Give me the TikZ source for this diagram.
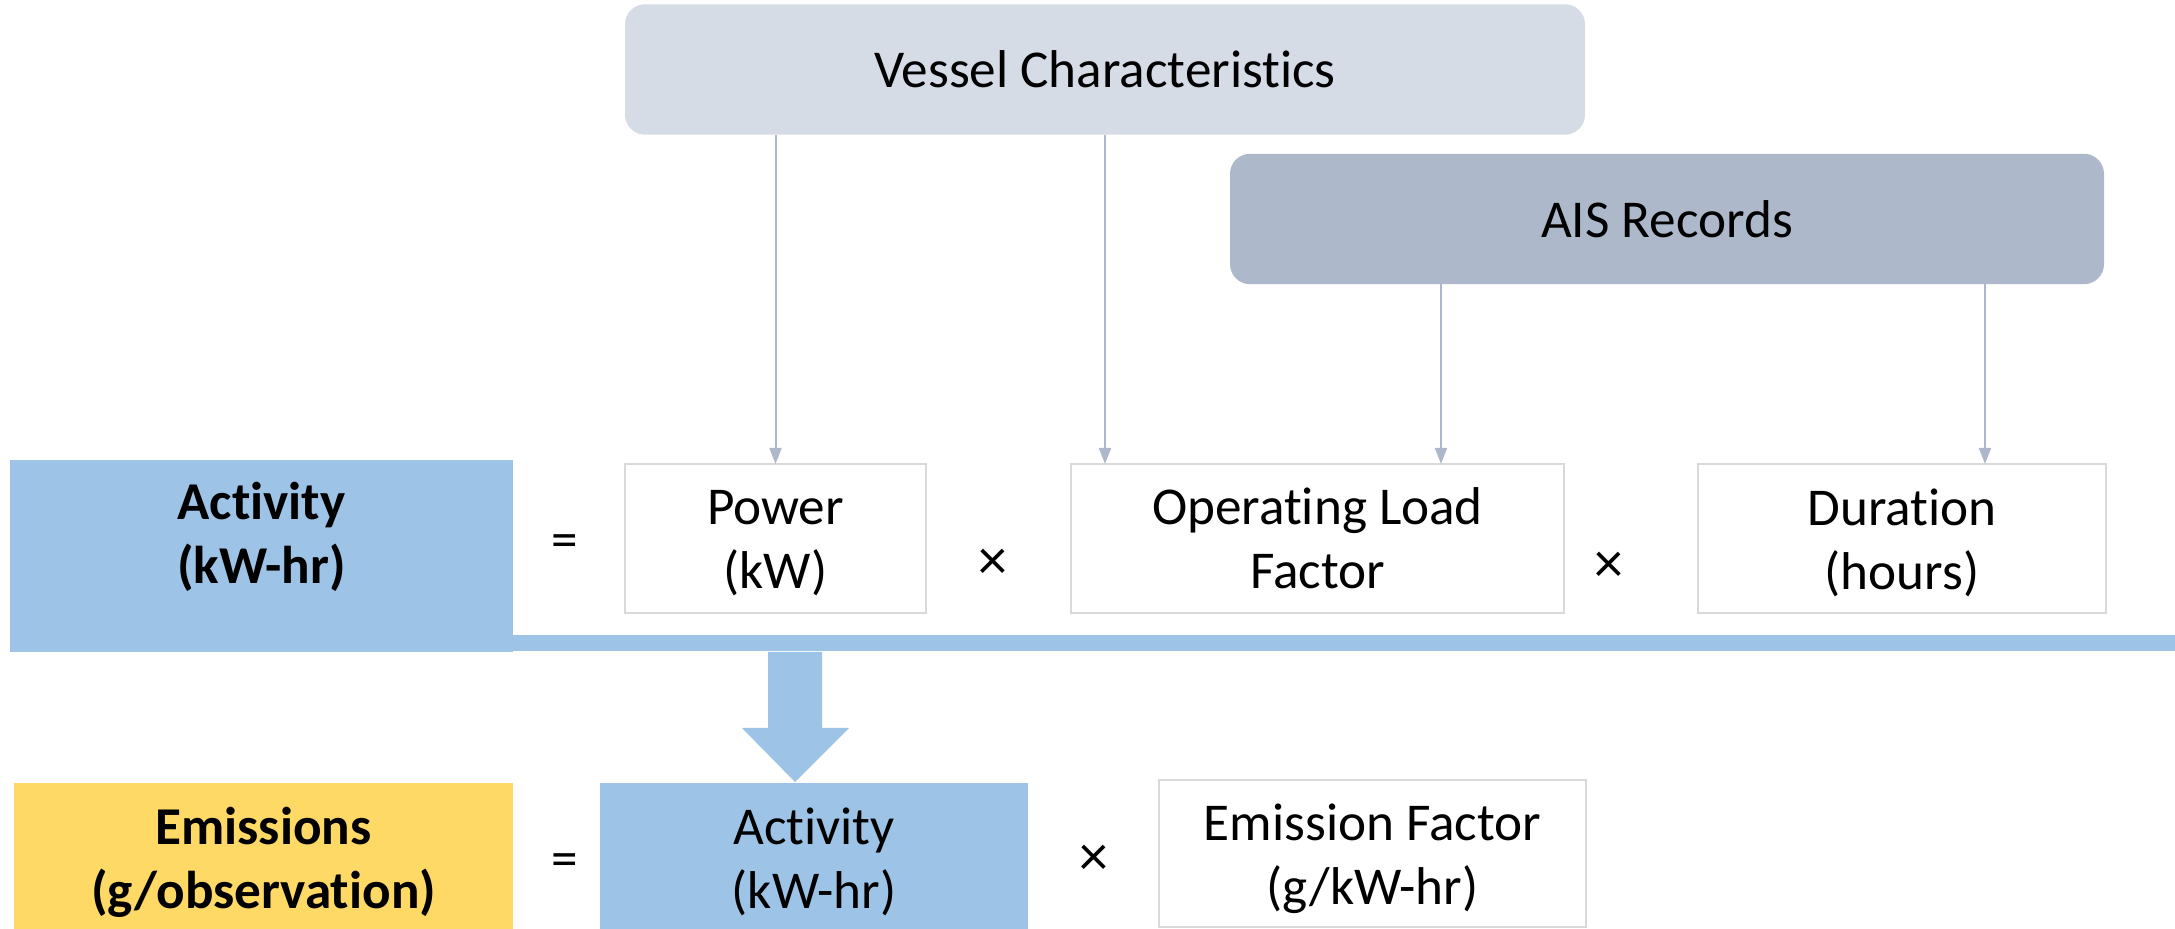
\documentclass[tikz,border=0pt]{standalone}
\usepackage{fontspec}
\setmainfont{Carlito}[Ligatures=NoCommon]
\usetikzlibrary{arrows.meta}
\definecolor{vcfill}{HTML}{D6DCE5}
\definecolor{aisfill}{HTML}{ADB9CA}
\definecolor{actblue}{HTML}{9DC3E6}
\definecolor{emyellow}{HTML}{FFD966}
\definecolor{boxline}{HTML}{D9D9D9}
\definecolor{arrowcol}{HTML}{ADB9CA}
\begin{document}
\begin{tikzpicture}[x=0.25pt,y=-0.25pt,
  every node/.style={font=\fontsize{13.3}{16}\selectfont, align=center, inner sep=0pt, outer sep=0pt},
  srcbox/.style={rounded corners=5pt, minimum width=#1, minimum height=32.6pt},
  whitebox/.style={draw=boxline, line width=0.5pt, fill=white, minimum height=37.25pt},
  fillbox/.style={minimum height=36.75pt},
  opsym/.style={font=\fontsize{14.5}{16}\selectfont},
  conn/.style={draw=arrowcol, line width=0.5pt, -{Triangle[length=4pt,width=3pt]}}
]
\useasboundingbox (0,0) rectangle (2175,929);

% top source boxes
\node[srcbox=240pt, fill=vcfill] (vc) at (1105,69.5) {Vessel Characteristics};
\node[srcbox=218.5pt, fill=aisfill] (ais) at (1667,219) {AIS Records};

% activity row
\node[fill=actblue, minimum width=125.75pt, minimum height=48pt] (act) at (261.5,556) {};
\node[font=\fontsize{13.3}{16}\selectfont\bfseries] (acttxt) at (261.5,537) {Activity\\(kW-hr)};
\node (eq1) at (565,546) {=};
\node[whitebox, minimum width=75.25pt] (pow) at (775.5,538.5) {};
\node[opsym] (x1) at (993,564) {×};
\node[whitebox, minimum width=123.25pt] (olf) at (1317.5,538.5) {};
\node[opsym] (x2) at (1609,567) {×};
\node[whitebox, minimum width=102pt] (dur) at (1902,538.5) {};
\node (powtxt) at (775.5,543) {Power\\(kW)};
\node (olftxt) at (1317.5,538) {Operating Load\\Factor};
\node (durtxt) at (1902,543) {Duration\\(hours)};

% separator bar
\node[fill=actblue, minimum width=415.5pt, minimum height=4pt, anchor=north west] (bar) at (513,635) {};

% connectors
\draw[conn] (vc.south -| pow.north) -- (pow.north);
\draw[conn] (vc.south) -- (vc.south |- olf.north);
\draw[conn] ([xshift=-56.5pt]ais.south) -- ([xshift=-56.5pt]ais.south |- olf.north);
\draw[conn] ([xshift=79.5pt]ais.south) -- ([xshift=79.5pt]ais.south |- dur.north);

% emissions row
\node[fill=emyellow, fillbox, minimum width=124.75pt] (em) at (263.5,857) {};
\node[font=\fontsize{13.3}{16}\selectfont\bfseries] (emtxt) at (263.5,862) {Emissions\\(g/observation)};
\node (eq2) at (565,865) {=};
\node[fill=actblue, fillbox, minimum width=107pt] (act2) at (814,857) {};
\node (act2txt) at (814,862) {Activity\\(kW-hr)};
\node[opsym] (x3) at (1094,860) {×};
\node[whitebox, minimum width=106.75pt, minimum height=36.9pt] (ef) at (1372.5,853.5) {};
\node (eftxt) at (1372.5,859) {Emission Factor\\(g/kW-hr)};

% block arrow
\fill[actblue] (768,652) -- (822,652) -- (822,728) -- (849,728) -- (795,782) -- (742,728) -- (768,728) -- cycle;
\end{tikzpicture}
\end{document}
